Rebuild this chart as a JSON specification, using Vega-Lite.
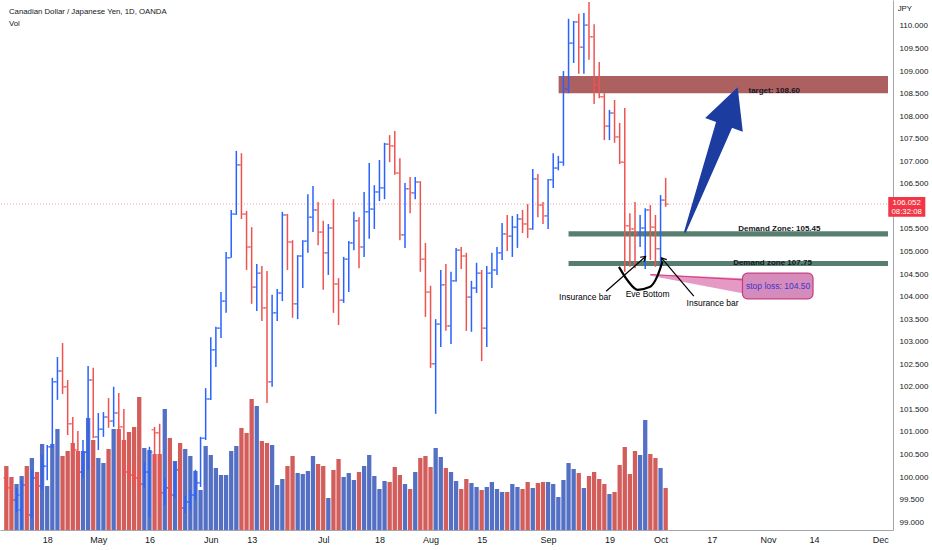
{
  "$schema": "https://vega.github.io/schema/vega-lite/v6.json",
  "width": 893,
  "height": 530,
  "autosize": {"type": "none"},
  "padding": {"left": 0, "top": 0, "right": 39, "bottom": 20},
  "background": "#ffffff",
  "config": {
    "view": {"stroke": null},
    "font": "Liberation Sans"
  },
  "datasets": {
    "bars": [
      {"i":-8,"o":99.98,"h":100.11,"l":99.67,"c":99.76,"v":64},
      {"i":-7,"o":99.76,"h":99.84,"l":99.38,"c":99.49,"v":53},
      {"i":-6,"o":99.49,"h":99.76,"l":99.22,"c":99.60,"v":46},
      {"i":-5,"o":99.27,"h":99.93,"l":98.85,"c":99.82,"v":54},
      {"i":-4,"o":99.82,"h":99.89,"l":99.05,"c":99.16,"v":64},
      {"i":-3,"o":99.16,"h":100.16,"l":99.09,"c":99.98,"v":72},
      {"i":-2,"o":99.98,"h":100.07,"l":99.67,"c":99.80,"v":58},
      {"i":-1,"o":99.80,"h":100.49,"l":99.71,"c":100.24,"v":86},
      {"i":0,"o":100.24,"h":100.71,"l":99.93,"c":100.67,"v":44},
      {"i":1,"o":100.67,"h":102.20,"l":100.64,"c":102.11,"v":86},
      {"i":2,"o":102.11,"h":102.66,"l":101.71,"c":102.35,"v":101},
      {"i":3,"o":102.35,"h":102.97,"l":101.84,"c":102.00,"v":74},
      {"i":4,"o":102.00,"h":102.15,"l":100.93,"c":101.18,"v":79},
      {"i":5,"o":101.18,"h":101.33,"l":100.55,"c":100.60,"v":87},
      {"i":6,"o":100.60,"h":101.02,"l":99.98,"c":100.11,"v":79},
      {"i":7,"o":100.11,"h":100.82,"l":99.98,"c":100.55,"v":79},
      {"i":8,"o":100.55,"h":102.46,"l":100.16,"c":102.15,"v":112},
      {"i":9,"o":102.15,"h":102.42,"l":100.86,"c":100.89,"v":90},
      {"i":10,"o":100.89,"h":101.42,"l":100.60,"c":101.06,"v":72},
      {"i":11,"o":101.06,"h":101.44,"l":100.89,"c":101.33,"v":67},
      {"i":12,"o":101.33,"h":101.75,"l":101.09,"c":101.24,"v":81},
      {"i":13,"o":101.24,"h":102.00,"l":101.11,"c":101.42,"v":101},
      {"i":14,"o":101.42,"h":101.86,"l":100.82,"c":101.11,"v":101},
      {"i":15,"o":101.11,"h":101.51,"l":100.09,"c":100.11,"v":90},
      {"i":16,"o":100.11,"h":100.33,"l":99.89,"c":100.04,"v":98},
      {"i":17,"o":100.04,"h":100.24,"l":99.80,"c":99.98,"v":103},
      {"i":18,"o":99.98,"h":100.16,"l":99.67,"c":99.84,"v":133},
      {"i":19,"o":99.84,"h":100.33,"l":99.76,"c":100.11,"v":82},
      {"i":20,"o":100.11,"h":100.67,"l":99.11,"c":100.55,"v":80},
      {"i":21,"o":101.05,"h":101.11,"l":100.31,"c":100.98,"v":76},
      {"i":22,"o":100.98,"h":101.18,"l":99.45,"c":99.65,"v":76},
      {"i":23,"o":99.65,"h":99.98,"l":99.38,"c":99.76,"v":121},
      {"i":24,"o":99.76,"h":99.93,"l":99.49,"c":99.60,"v":92},
      {"i":25,"o":99.60,"h":100.33,"l":99.53,"c":100.16,"v":69},
      {"i":26,"o":100.16,"h":100.27,"l":99.27,"c":99.31,"v":87},
      {"i":27,"o":99.31,"h":99.58,"l":99.20,"c":99.45,"v":81},
      {"i":28,"o":99.45,"h":99.71,"l":99.27,"c":99.60,"v":74},
      {"i":29,"o":99.60,"h":100.16,"l":99.49,"c":99.87,"v":59},
      {"i":30,"o":99.87,"h":100.89,"l":99.78,"c":100.86,"v":40},
      {"i":31,"o":100.86,"h":101.97,"l":100.82,"c":101.73,"v":84},
      {"i":32,"o":101.73,"h":103.10,"l":101.71,"c":102.82,"v":75},
      {"i":33,"o":102.82,"h":103.33,"l":102.44,"c":103.30,"v":62},
      {"i":34,"o":103.30,"h":104.10,"l":103.08,"c":103.90,"v":55},
      {"i":35,"o":103.90,"h":104.99,"l":103.64,"c":104.86,"v":55},
      {"i":36,"o":104.86,"h":105.92,"l":104.86,"c":105.83,"v":79},
      {"i":37,"o":105.83,"h":107.23,"l":105.81,"c":106.92,"v":84},
      {"i":38,"o":106.92,"h":107.18,"l":105.72,"c":105.83,"v":102},
      {"i":39,"o":105.83,"h":105.90,"l":104.59,"c":105.10,"v":97},
      {"i":40,"o":105.10,"h":105.54,"l":103.84,"c":104.21,"v":131},
      {"i":41,"o":104.21,"h":104.72,"l":103.68,"c":104.52,"v":124},
      {"i":42,"o":104.52,"h":104.68,"l":103.46,"c":103.75,"v":89},
      {"i":43,"o":103.75,"h":104.57,"l":101.64,"c":102.11,"v":87},
      {"i":44,"o":102.11,"h":104.04,"l":102.00,"c":103.64,"v":85},
      {"i":45,"o":103.64,"h":104.17,"l":103.46,"c":104.08,"v":45},
      {"i":46,"o":104.08,"h":105.88,"l":103.90,"c":105.81,"v":51},
      {"i":47,"o":105.81,"h":105.83,"l":104.59,"c":105.21,"v":64},
      {"i":48,"o":105.21,"h":105.25,"l":103.53,"c":103.84,"v":74},
      {"i":49,"o":103.84,"h":104.92,"l":103.50,"c":104.90,"v":57},
      {"i":50,"o":104.90,"h":105.25,"l":104.19,"c":105.23,"v":56},
      {"i":51,"o":105.23,"h":106.27,"l":104.97,"c":105.76,"v":59},
      {"i":52,"o":105.76,"h":106.45,"l":105.43,"c":105.92,"v":74},
      {"i":53,"o":105.92,"h":106.10,"l":105.14,"c":105.43,"v":66},
      {"i":54,"o":105.43,"h":105.68,"l":104.15,"c":104.97,"v":64},
      {"i":55,"o":104.97,"h":105.61,"l":104.48,"c":105.52,"v":32},
      {"i":56,"o":105.52,"h":106.16,"l":103.64,"c":104.28,"v":60},
      {"i":57,"o":104.28,"h":104.41,"l":103.37,"c":103.92,"v":71},
      {"i":58,"o":103.92,"h":104.88,"l":103.86,"c":104.83,"v":53},
      {"i":59,"o":104.83,"h":105.23,"l":104.10,"c":105.19,"v":57},
      {"i":60,"o":105.19,"h":105.88,"l":105.03,"c":105.68,"v":50},
      {"i":61,"o":105.68,"h":105.76,"l":104.63,"c":105.10,"v":58},
      {"i":62,"o":105.10,"h":106.32,"l":104.88,"c":105.88,"v":64},
      {"i":63,"o":105.88,"h":106.96,"l":105.28,"c":105.94,"v":75},
      {"i":64,"o":105.94,"h":106.47,"l":105.50,"c":106.32,"v":54},
      {"i":65,"o":106.32,"h":107.03,"l":106.12,"c":106.41,"v":41},
      {"i":66,"o":106.41,"h":107.41,"l":106.16,"c":107.38,"v":49},
      {"i":67,"o":107.38,"h":107.58,"l":106.98,"c":107.34,"v":48},
      {"i":68,"o":107.34,"h":107.67,"l":106.70,"c":106.74,"v":63},
      {"i":69,"o":106.74,"h":107.07,"l":105.25,"c":105.37,"v":55},
      {"i":70,"o":105.37,"h":106.52,"l":105.08,"c":106.39,"v":46},
      {"i":71,"o":106.39,"h":106.65,"l":105.85,"c":106.30,"v":41},
      {"i":72,"o":106.30,"h":106.65,"l":106.16,"c":106.54,"v":58},
      {"i":73,"o":106.54,"h":106.56,"l":104.55,"c":104.83,"v":72},
      {"i":74,"o":104.83,"h":105.19,"l":103.55,"c":104.10,"v":74},
      {"i":75,"o":104.10,"h":104.24,"l":102.42,"c":102.51,"v":63},
      {"i":76,"o":102.51,"h":103.50,"l":101.40,"c":103.39,"v":82},
      {"i":77,"o":103.39,"h":104.59,"l":102.88,"c":104.26,"v":73},
      {"i":78,"o":104.26,"h":104.72,"l":103.24,"c":103.35,"v":62},
      {"i":79,"o":103.35,"h":104.55,"l":102.95,"c":104.35,"v":58},
      {"i":80,"o":104.35,"h":105.08,"l":104.33,"c":105.03,"v":49},
      {"i":81,"o":105.03,"h":105.10,"l":104.61,"c":104.90,"v":41},
      {"i":82,"o":104.90,"h":104.97,"l":103.24,"c":103.99,"v":51},
      {"i":83,"o":103.99,"h":104.35,"l":103.22,"c":104.19,"v":47},
      {"i":84,"o":104.19,"h":104.75,"l":104.08,"c":104.52,"v":43},
      {"i":85,"o":104.52,"h":104.59,"l":102.57,"c":103.30,"v":40},
      {"i":86,"o":103.30,"h":104.68,"l":102.88,"c":104.52,"v":43},
      {"i":87,"o":104.52,"h":104.97,"l":104.19,"c":104.59,"v":48},
      {"i":88,"o":104.59,"h":105.10,"l":104.48,"c":104.97,"v":41},
      {"i":89,"o":104.97,"h":105.63,"l":104.81,"c":105.39,"v":38},
      {"i":90,"o":105.39,"h":105.81,"l":105.01,"c":105.34,"v":38},
      {"i":91,"o":105.34,"h":105.79,"l":104.88,"c":105.54,"v":46},
      {"i":92,"o":105.54,"h":105.83,"l":105.08,"c":105.72,"v":43},
      {"i":93,"o":105.72,"h":105.92,"l":105.41,"c":105.61,"v":41},
      {"i":94,"o":105.61,"h":106.05,"l":105.30,"c":105.50,"v":48},
      {"i":95,"o":105.50,"h":106.83,"l":105.48,"c":106.61,"v":42},
      {"i":96,"o":106.61,"h":106.72,"l":105.76,"c":106.03,"v":47},
      {"i":97,"o":106.03,"h":106.10,"l":105.61,"c":105.79,"v":48},
      {"i":98,"o":105.79,"h":106.61,"l":105.50,"c":106.59,"v":48},
      {"i":99,"o":106.59,"h":107.18,"l":106.41,"c":106.85,"v":46},
      {"i":100,"o":106.85,"h":107.12,"l":106.80,"c":106.98,"v":33},
      {"i":101,"o":106.98,"h":109.00,"l":106.90,"c":108.60,"v":50},
      {"i":102,"o":108.60,"h":110.16,"l":108.51,"c":109.62,"v":67},
      {"i":103,"o":109.62,"h":110.11,"l":109.18,"c":110.09,"v":61},
      {"i":104,"o":110.09,"h":110.27,"l":108.94,"c":109.53,"v":57},
      {"i":105,"o":109.53,"h":110.29,"l":108.94,"c":110.02,"v":42},
      {"i":106,"o":110.02,"h":110.53,"l":109.25,"c":109.76,"v":54},
      {"i":107,"o":109.76,"h":110.04,"l":108.27,"c":108.69,"v":58},
      {"i":108,"o":108.69,"h":109.20,"l":108.40,"c":108.43,"v":51},
      {"i":109,"o":108.43,"h":108.51,"l":107.47,"c":107.78,"v":46},
      {"i":110,"o":107.78,"h":108.14,"l":107.47,"c":108.07,"v":36},
      {"i":111,"o":108.07,"h":108.36,"l":107.41,"c":107.54,"v":38},
      {"i":112,"o":107.54,"h":107.85,"l":106.94,"c":106.98,"v":65},
      {"i":113,"o":106.98,"h":108.18,"l":104.55,"c":105.57,"v":83},
      {"i":114,"o":105.57,"h":105.85,"l":104.66,"c":105.50,"v":56},
      {"i":115,"o":105.50,"h":106.10,"l":104.63,"c":105.41,"v":79},
      {"i":116,"o":105.41,"h":105.81,"l":105.10,"c":105.52,"v":75},
      {"i":117,"o":105.52,"h":105.96,"l":104.61,"c":105.92,"v":110},
      {"i":118,"o":105.92,"h":106.03,"l":104.81,"c":105.54,"v":76},
      {"i":119,"o":105.54,"h":105.81,"l":104.66,"c":105.06,"v":72},
      {"i":120,"o":105.06,"h":106.25,"l":104.66,"c":106.14,"v":62},
      {"i":121,"o":106.14,"h":106.63,"l":105.99,"c":106.05,"v":42}
    ],
    "zones": [
      {"x1":100.06,"x2":164.5,"y1":108.51,"y2":108.89,"kind":"target"},
      {"x1":102.0,"x2":164.5,"y1":105.33,"y2":105.45,"kind":"demand"},
      {"x1":102.0,"x2":164.5,"y1":104.68,"y2":104.79,"kind":"demand"}
    ],
    "shaft": [
      {"k":0,"x":124.81,"y":105.44,"w":2},
      {"k":1,"x":132.41,"y":107.8,"w":17}
    ],
    "wedge": [
      {"k":0,"x":118.05,"y":104.48,"w":1.5},
      {"k":1,"x":136.2,"y":104.24,"w":15}
    ],
    "wedgeEdge": [
      {"k":0,"x":118.05,"y":104.49},
      {"k":1,"x":136.2,"y":104.37}
    ],
    "eve": [
      {"x":111.86,"y":104.66},
      {"x":113.6,"y":104.35},
      {"x":115.53,"y":104.15},
      {"x":117.85,"y":104.21},
      {"x":119.4,"y":104.46},
      {"x":120.36,"y":104.77}
    ],
    "pointers": [
      {"x1":109.35,"y1":104.12,"x2":117.08,"y2":104.89},
      {"x1":126.5,"y1":104.01,"x2":120.17,"y2":104.86}
    ],
    "notesL": [
      {"x":137.2,"y":108.55,"t":"target: 108.60"},
      {"x":135.2,"y":105.49,"t":"Demand Zone: 105.45"},
      {"x":134.2,"y":104.74,"t":"Demand zone 107.75"}
    ],
    "notesC": [
      {"x":105.23,"y":103.98,"t":"Insurance bar"},
      {"x":117.47,"y":104.05,"t":"Eve Bottom"},
      {"x":130.18,"y":103.86,"t":"Insurance bar"}
    ],
    "head": [
      {"x":-7.49,"y":110.31,"t":"Canadian Dollar / Japanese Yen, 1D, OANDA"},
      {"x":-7.49,"y":110.04,"t":"Vol"},
      {"x":166.4,"y":110.38,"t":"JPY"}
    ]
  },
  "layer": [
    {
      "data": {"name": "bars"},
      "mark": {"type": "bar", "width": 4.3},
      "encoding": {
        "x": {
          "field": "i", "type": "quantitative",
          "scale": {"domain": [-8.26, 164.5], "nice": false, "zero": false},
          "axis": {
            "orient": "bottom",
            "values": [0, 10, 20, 32, 40, 54, 65, 75, 85, 98, 110, 120, 130, 141, 150, 163],
            "labelExpr": "['18','May','16','Jun','13','Jul','18','Aug','15','Sep','19','Oct','17','Nov','14','Dec'][indexof([0,10,20,32,40,54,65,75,85,98,110,120,130,141,150,163], datum.value)]",
            "grid": false, "ticks": false,
            "labelPadding": 5, "labelFontSize": 9, "labelColor": "#131722",
            "domainColor": "#a3a6ae", "title": null
          }
        },
        "y": {"field": "v", "type": "quantitative", "scale": {"domain": [0, 530], "nice": false}, "axis": null},
        "color": {"condition": {"test": "datum.c >= datum.o", "value": "#5470c4"}, "value": "#d35d5b"}
      }
    },
    {
      "data": {"name": "zones"},
      "mark": {"type": "rect", "opacity": 0.92},
      "encoding": {
        "x": {"field": "x1", "type": "quantitative", "scale": {"domain": [-8.26, 164.5], "nice": false, "zero": false}, "axis": null},
        "x2": {"field": "x2"},
        "y": {"field": "y1", "type": "quantitative", "scale": {"domain": [98.825, 110.576], "nice": false, "zero": false}, "axis": null},
        "y2": {"field": "y2"},
        "color": {"field": "kind", "type": "nominal", "scale": {"domain": ["target", "demand"], "range": ["#a65353", "#4a7363"]}, "legend": null}
      }
    },
    {
      "data": {"values": [{"p": 106.052}]},
      "mark": {"type": "rule", "color": "#f5a3aa", "strokeDash": [1, 2], "strokeWidth": 1},
      "encoding": {
        "y": {"field": "p", "type": "quantitative", "scale": {"domain": [98.825, 110.576], "nice": false, "zero": false}, "axis": null}
      }
    },
    {
      "data": {"name": "bars"},
      "mark": {"type": "rule", "strokeWidth": 1.5},
      "encoding": {
        "x": {"field": "i", "type": "quantitative", "scale": {"domain": [-8.26, 164.5], "nice": false, "zero": false}, "axis": null},
        "y": {
          "field": "h", "type": "quantitative",
          "scale": {"domain": [98.825, 110.576], "nice": false, "zero": false},
          "axis": {
            "orient": "right",
            "values": [99, 99.5, 100, 100.5, 101, 101.5, 102, 102.5, 103, 103.5, 104, 104.5, 105, 105.5, 106.5, 107, 107.5, 108, 108.5, 109, 109.5, 110],
            "format": ".3f", "grid": false, "ticks": false,
            "labelPadding": 6, "labelFontSize": 8, "labelColor": "#131722",
            "domainColor": "#a3a6ae", "title": null
          }
        },
        "y2": {"field": "l"},
        "color": {"condition": {"test": "datum.c >= datum.o", "value": "#2962ff"}, "value": "#ef5350"}
      }
    },
    {
      "data": {"name": "bars"},
      "mark": {"type": "tick", "orient": "horizontal", "size": 2.6, "thickness": 1.4, "xOffset": -1.8},
      "encoding": {
        "x": {"field": "i", "type": "quantitative", "scale": {"domain": [-8.26, 164.5], "nice": false, "zero": false}, "axis": null},
        "y": {"field": "o", "type": "quantitative", "scale": {"domain": [98.825, 110.576], "nice": false, "zero": false}, "axis": null},
        "color": {"condition": {"test": "datum.c >= datum.o", "value": "#2962ff"}, "value": "#ef5350"}
      }
    },
    {
      "data": {"name": "bars"},
      "mark": {"type": "tick", "orient": "horizontal", "size": 2.6, "thickness": 1.4, "xOffset": 1.8},
      "encoding": {
        "x": {"field": "i", "type": "quantitative", "scale": {"domain": [-8.26, 164.5], "nice": false, "zero": false}, "axis": null},
        "y": {"field": "c", "type": "quantitative", "scale": {"domain": [98.825, 110.576], "nice": false, "zero": false}, "axis": null},
        "color": {"condition": {"test": "datum.c >= datum.o", "value": "#2962ff"}, "value": "#ef5350"}
      }
    },
    {
      "data": {"name": "shaft"},
      "mark": {"type": "trail", "color": "#1c3c9f"},
      "encoding": {
        "x": {"field": "x", "type": "quantitative", "scale": {"domain": [-8.26, 164.5], "nice": false, "zero": false}, "axis": null},
        "y": {"field": "y", "type": "quantitative", "scale": {"domain": [98.825, 110.576], "nice": false, "zero": false}, "axis": null},
        "order": {"field": "k"},
        "size": {"field": "w", "type": "quantitative", "scale": null}
      }
    },
    {
      "data": {"values": [{"x": 133.75, "y": 108.226}]},
      "mark": {"type": "point", "shape": "M 0 -1 L 1 1 L -1 1 Z", "filled": true, "size": 1600, "angle": 20, "color": "#1c3c9f", "opacity": 1},
      "encoding": {
        "x": {"field": "x", "type": "quantitative", "scale": {"domain": [-8.26, 164.5], "nice": false, "zero": false}, "axis": null},
        "y": {"field": "y", "type": "quantitative", "scale": {"domain": [98.825, 110.576], "nice": false, "zero": false}, "axis": null}
      }
    },
    {
      "data": {"name": "wedge"},
      "mark": {"type": "trail", "color": "#e59ac6"},
      "encoding": {
        "x": {"field": "x", "type": "quantitative", "scale": {"domain": [-8.26, 164.5], "nice": false, "zero": false}, "axis": null},
        "y": {"field": "y", "type": "quantitative", "scale": {"domain": [98.825, 110.576], "nice": false, "zero": false}, "axis": null},
        "order": {"field": "k"},
        "size": {"field": "w", "type": "quantitative", "scale": null}
      }
    },
    {
      "data": {"name": "wedgeEdge"},
      "mark": {"type": "line", "color": "#d8407f", "strokeWidth": 1.2},
      "encoding": {
        "x": {"field": "x", "type": "quantitative", "scale": {"domain": [-8.26, 164.5], "nice": false, "zero": false}, "axis": null},
        "y": {"field": "y", "type": "quantitative", "scale": {"domain": [98.825, 110.576], "nice": false, "zero": false}, "axis": null},
        "order": {"field": "k"}
      }
    },
    {
      "data": {"values": [{"x1": 136.03, "x2": 149.83, "y1": 104.52, "y2": 103.95}]},
      "mark": {"type": "rect", "cornerRadius": 5, "fill": "#d68bbd", "stroke": "#c43c7c", "strokeWidth": 1.2},
      "encoding": {
        "x": {"field": "x1", "type": "quantitative", "scale": {"domain": [-8.26, 164.5], "nice": false, "zero": false}, "axis": null},
        "x2": {"field": "x2"},
        "y": {"field": "y1", "type": "quantitative", "scale": {"domain": [98.825, 110.576], "nice": false, "zero": false}, "axis": null},
        "y2": {"field": "y2"}
      }
    },
    {
      "data": {"values": [{"x": 143.0, "y": 104.24, "t": "stop loss: 104.50"}]},
      "mark": {"type": "text", "align": "center", "baseline": "middle", "fontSize": 8.5, "color": "#3a36cc"},
      "encoding": {
        "x": {"field": "x", "type": "quantitative", "scale": {"domain": [-8.26, 164.5], "nice": false, "zero": false}, "axis": null},
        "y": {"field": "y", "type": "quantitative", "scale": {"domain": [98.825, 110.576], "nice": false, "zero": false}, "axis": null},
        "text": {"field": "t"}
      }
    },
    {
      "data": {"name": "eve"},
      "mark": {"type": "line", "color": "#000000", "strokeWidth": 2.2, "interpolate": "monotone"},
      "encoding": {
        "x": {"field": "x", "type": "quantitative", "scale": {"domain": [-8.26, 164.5], "nice": false, "zero": false}, "axis": null},
        "y": {"field": "y", "type": "quantitative", "scale": {"domain": [98.825, 110.576], "nice": false, "zero": false}, "axis": null}
      }
    },
    {
      "data": {"name": "pointers"},
      "mark": {"type": "rule", "color": "#000000", "strokeWidth": 1.2},
      "encoding": {
        "x": {"field": "x1", "type": "quantitative", "scale": {"domain": [-8.26, 164.5], "nice": false, "zero": false}, "axis": null},
        "x2": {"field": "x2"},
        "y": {"field": "y1", "type": "quantitative", "scale": {"domain": [98.825, 110.576], "nice": false, "zero": false}, "axis": null},
        "y2": {"field": "y2"}
      }
    },
    {
      "data": {"values": [{"x": 117.08, "y": 104.89}]},
      "mark": {"type": "point", "shape": "M -1 1.6 L 0 0 L 1 1.6", "filled": false, "size": 36, "angle": 50, "color": "#000000", "strokeWidth": 1.2, "opacity": 1},
      "encoding": {
        "x": {"field": "x", "type": "quantitative", "scale": {"domain": [-8.26, 164.5], "nice": false, "zero": false}, "axis": null},
        "y": {"field": "y", "type": "quantitative", "scale": {"domain": [98.825, 110.576], "nice": false, "zero": false}, "axis": null}
      }
    },
    {
      "data": {"values": [{"x": 120.17, "y": 104.86}]},
      "mark": {"type": "point", "shape": "M -1 1.6 L 0 0 L 1 1.6", "filled": false, "size": 36, "angle": 320, "color": "#000000", "strokeWidth": 1.2, "opacity": 1},
      "encoding": {
        "x": {"field": "x", "type": "quantitative", "scale": {"domain": [-8.26, 164.5], "nice": false, "zero": false}, "axis": null},
        "y": {"field": "y", "type": "quantitative", "scale": {"domain": [98.825, 110.576], "nice": false, "zero": false}, "axis": null}
      }
    },
    {
      "data": {"name": "notesL"},
      "mark": {"type": "text", "align": "left", "baseline": "middle", "fontSize": 8, "fontWeight": "bold", "color": "#131722"},
      "encoding": {
        "x": {"field": "x", "type": "quantitative", "scale": {"domain": [-8.26, 164.5], "nice": false, "zero": false}, "axis": null},
        "y": {"field": "y", "type": "quantitative", "scale": {"domain": [98.825, 110.576], "nice": false, "zero": false}, "axis": null},
        "text": {"field": "t"}
      }
    },
    {
      "data": {"name": "notesC"},
      "mark": {"type": "text", "align": "center", "baseline": "middle", "fontSize": 8.5, "color": "#000000"},
      "encoding": {
        "x": {"field": "x", "type": "quantitative", "scale": {"domain": [-8.26, 164.5], "nice": false, "zero": false}, "axis": null},
        "y": {"field": "y", "type": "quantitative", "scale": {"domain": [98.825, 110.576], "nice": false, "zero": false}, "axis": null},
        "text": {"field": "t"}
      }
    },
    {
      "data": {"name": "head"},
      "mark": {"type": "text", "align": "left", "baseline": "middle", "fontSize": 7.8, "color": "#131722"},
      "encoding": {
        "x": {"field": "x", "type": "quantitative", "scale": {"domain": [-8.26, 164.5], "nice": false, "zero": false}, "axis": null},
        "y": {"field": "y", "type": "quantitative", "scale": {"domain": [98.825, 110.576], "nice": false, "zero": false}, "axis": null},
        "text": {"field": "t"}
      }
    },
    {
      "data": {"values": [{"x1": 164.55, "x2": 171.8, "y1": 106.21, "y2": 105.77}]},
      "mark": {"type": "rect", "color": "#f23645"},
      "encoding": {
        "x": {"field": "x1", "type": "quantitative", "scale": {"domain": [-8.26, 164.5], "nice": false, "zero": false}, "axis": null},
        "x2": {"field": "x2"},
        "y": {"field": "y1", "type": "quantitative", "scale": {"domain": [98.825, 110.576], "nice": false, "zero": false}, "axis": null},
        "y2": {"field": "y2"}
      }
    },
    {
      "data": {"values": [{"x": 168.15, "y": 106.08, "t": "106.052"}, {"x": 168.15, "y": 105.88, "t": "08:32:08"}]},
      "mark": {"type": "text", "align": "center", "baseline": "middle", "fontSize": 7.8, "color": "#ffffff"},
      "encoding": {
        "x": {"field": "x", "type": "quantitative", "scale": {"domain": [-8.26, 164.5], "nice": false, "zero": false}, "axis": null},
        "y": {"field": "y", "type": "quantitative", "scale": {"domain": [98.825, 110.576], "nice": false, "zero": false}, "axis": null},
        "text": {"field": "t"}
      }
    }
  ],
  "resolve": {"scale": {"y": "independent"}, "axis": {"x": "independent"}}
}
